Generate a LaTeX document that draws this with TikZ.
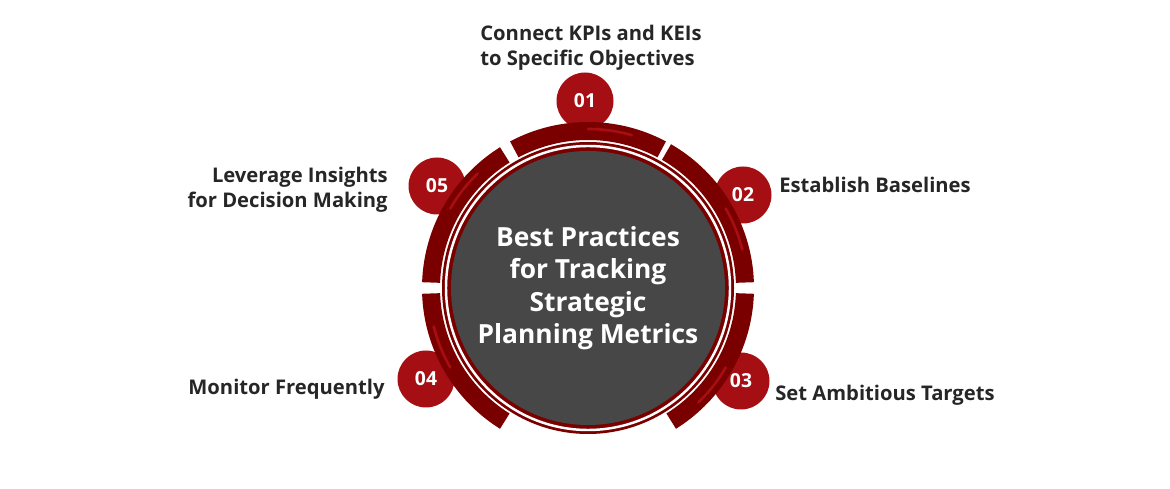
\documentclass[tikz,border=0pt]{standalone}
\usepackage{fontspec}
\setmainfont{Open Sans}
\definecolor{segred}{HTML}{7A0000}
\definecolor{badgered}{HTML}{A50F13}
\definecolor{hubgray}{HTML}{474747}
\definecolor{labeltext}{HTML}{262626}
\newlength{\pxunit}
\setlength{\pxunit}{0.02cm}
\tikzset{
  badge/.style={circle,fill=badgered,minimum size=57\pxunit,inner sep=0pt,text=white,font=\bfseries\fontsize{11}{13}\selectfont},
  label/.style={text=labeltext,font=\bfseries\fontsize{11.5}{14.5}\selectfont,inner sep=0pt}
}
\begin{document}
\begin{tikzpicture}[x=0.02cm,y=-0.02cm]
\useasboundingbox (0,0) rectangle (1170,489);
% badges behind the ring
\node[badge] (b1) at (585,101) {01};
\node[badge] (b2) at (743,195) {02};
\node[badge] (b3) at (741,381) {03};
\node[badge] (b4) at (426,379) {04};
\node[badge] (b5) at (437,186) {05};
% ring segments
\begin{scope}[shift={(588,288)},y=0.02cm]
\foreach \a/\b in {62/118,2/60,-58/-2,-178/-122,122/178}{
  \fill[segred] (\a:166) arc[start angle=\a,end angle=\b,radius=166] -- (\b:148)
    arc[start angle=\b,end angle=\a,radius=148] -- cycle;
  \draw[badgered,line width=1.5pt,line cap=round] (\a+12:159) arc[start angle=\a+12,end angle=\a+28,radius=159];
}
\fill[segred] (0,0) circle (146);
\draw[white,line width=1.4pt] (0,0) circle (142);
\end{scope}
\node[circle,fill=hubgray,minimum size=274\pxunit,inner sep=0pt,text=white,
  align=center,font=\bfseries\fontsize{15}{18.5}\selectfont] (hub) at (588,288)
  {Best Practices\\for Tracking\\Strategic\\Planning Metrics};
% labels
\node[label,align=left,anchor=west] (t1) at (480,48) {Connect KPIs and KEIs\\to Specific Objectives};
\node[label,anchor=west] (t2) at (779,185) {Establish Baselines};
\node[label,anchor=west] (t3) at (775,395) {Set Ambitious Targets};
\node[label,anchor=east] (t4) at (385,389) {Monitor Frequently};
\node[label,align=right,anchor=east] (t5) at (388,190) {Leverage Insights\\for Decision Making};
\end{tikzpicture}
\end{document}
